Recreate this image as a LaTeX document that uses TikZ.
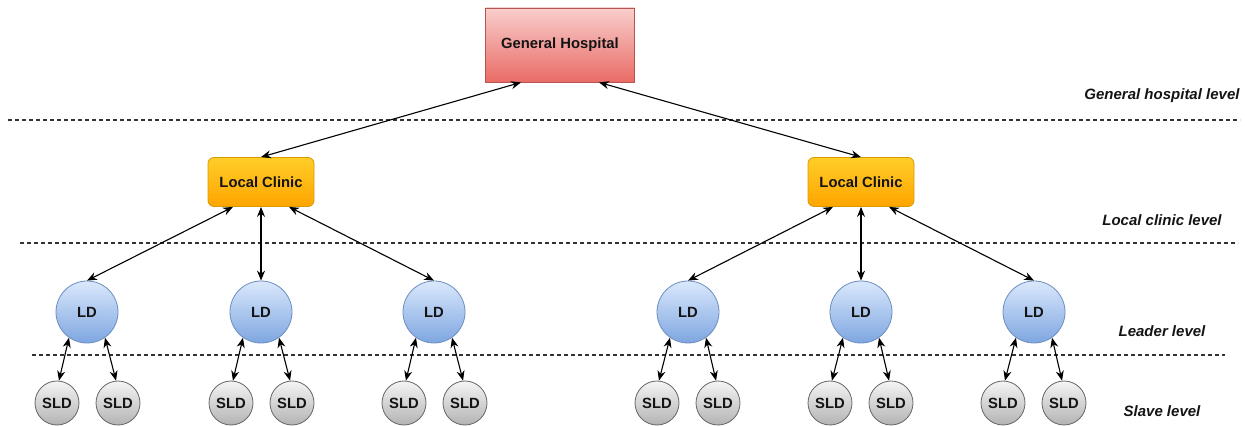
\documentclass[tikz,border=0pt]{standalone}
\usepackage{fontspec}
\setmainfont{Liberation Sans}
\usetikzlibrary{arrows.meta}

\definecolor{ghTop}{HTML}{F8CECC}
\definecolor{ghBot}{HTML}{EA6B66}
\definecolor{ghLine}{HTML}{B85450}
\definecolor{lcTop}{HTML}{FFCD28}
\definecolor{lcBot}{HTML}{FFA500}
\definecolor{lcLine}{HTML}{D79B00}
\definecolor{ldTop}{HTML}{DAE8FC}
\definecolor{ldBot}{HTML}{7EA6E0}
\definecolor{ldLine}{HTML}{6C8EBF}
\definecolor{sTop}{HTML}{F5F5F5}
\definecolor{sBot}{HTML}{B3B3B3}
\definecolor{sLine}{HTML}{666666}

\tikzset{
  nodetext/.style={font=\fontsize{14.8}{17}\selectfont\bfseries, text=black!92},
  hospital/.style={nodetext, draw=ghLine, line width=0.8pt, top color=ghTop, bottom color=ghBot,
    minimum width=149pt, minimum height=74pt, inner sep=0pt},
  clinic/.style={nodetext, draw=lcLine, line width=0.8pt, top color=lcTop, bottom color=lcBot,
    rounded corners=6pt, minimum width=106pt, minimum height=49pt, inner sep=0pt},
  leader/.style={nodetext, circle, draw=ldLine, line width=0.8pt, top color=ldTop, bottom color=ldBot,
    minimum size=62pt, inner sep=0pt},
  slave/.style={nodetext, circle, draw=sLine, line width=0.8pt, top color=sTop, bottom color=sBot,
    minimum size=44pt, inner sep=0pt},
  levellabel/.style={font=\fontsize{15}{17}\selectfont\bfseries\itshape, text=black!92},
  link/.style={{Stealth[length=10pt,width=8pt]}-{Stealth[length=10pt,width=8pt]}, line width=1.1pt, black},
  divider/.style={line width=1.1pt, black!80, dash pattern=on 4pt off 3pt},
}

\begin{document}
\begin{tikzpicture}[x=1pt, y=-1pt]
\useasboundingbox (0,0) rectangle (1245,427);

% level separators
\coordinate (d1a) at (8,120);   \coordinate (d1b) at (1240,120);
\coordinate (d2a) at (20,243);  \coordinate (d2b) at (1238,243);
\coordinate (d3a) at (32,355);  \coordinate (d3b) at (1225,355);
\draw[divider] (d1a) -- (d1b);
\draw[divider] (d2a) -- (d2b);
\draw[divider] (d3a) -- (d3b);

% hierarchy
\node[hospital] (gh) at (560,45) {General Hospital};
\node[clinic] (lc1) at (261,182) {Local Clinic};
\node[clinic] (lc2) at (861,182) {Local Clinic};

\node[leader] (ld1) at (87,312)   {LD};
\node[leader] (ld2) at (261,312)  {LD};
\node[leader] (ld3) at (434,312)  {LD};
\node[leader] (ld4) at (688,312)  {LD};
\node[leader] (ld5) at (861,312)  {LD};
\node[leader] (ld6) at (1034,312) {LD};

\foreach \i/\x in {1/57,2/118,3/231,4/292,5/404,6/465,7/657,8/718,9/830,10/891,11/1003,12/1064}
  \node[slave] (s\i) at (\x,403) {SLD};

% level names
\node[levellabel] (lv1) at (1162,96)  {General hospital level};
\node[levellabel] (lv2) at (1162,220) {Local clinic level};
\node[levellabel] (lv3) at (1162,331) {Leader level};
\node[levellabel] (lv4) at (1162,411) {Slave level};

% links
\draw[link] ([xshift=-39pt]gh.south) -- (lc1.north);
\draw[link] ([xshift=39pt]gh.south) -- (lc2.north);

\draw[link] ([xshift=-28pt]lc1.south) -- (ld1.north);
\draw[link] (lc1.south) -- (ld2.north);
\draw[link] ([xshift=28pt]lc1.south) -- (ld3.north);
\draw[link] ([xshift=-28pt]lc2.south) -- (ld4.north);
\draw[link] (lc2.south) -- (ld5.north);
\draw[link] ([xshift=28pt]lc2.south) -- (ld6.north);

\foreach \l/\a/\b in {1/1/2,2/3/4,3/5/6,4/7/8,5/9/10,6/11/12}{
  \draw[link] (ld\l.235) -- (s\a.85);
  \draw[link] (ld\l.305) -- (s\b.95);
}
\end{tikzpicture}
\end{document}
